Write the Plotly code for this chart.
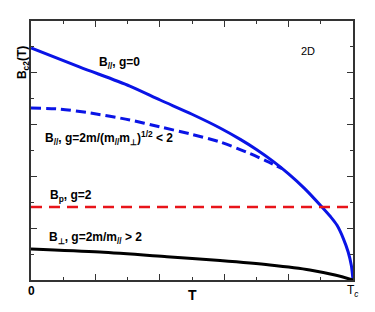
import plotly.graph_objects as go

# --- data (T / Tc, B in arbitrary units 0..10) ---
par_g0_t = [0.0, 0.152, 0.307, 0.401, 0.5, 0.587, 0.65, 0.70, 0.75, 0.80, 0.85, 0.90, 0.93, 0.95, 0.97, 0.985, 0.995, 1.0]
par_g0_b = [8.96, 8.22, 7.49, 6.95, 6.40, 5.87, 5.43, 5.04, 4.60, 4.10, 3.53, 2.87, 2.45, 2.12, 1.60, 1.08, 0.55, 0.0]

par_glt2_t = [0.0, 0.090, 0.183, 0.307, 0.401, 0.494, 0.587, 0.680, 0.73, 0.78]
par_glt2_b = [6.64, 6.60, 6.45, 6.18, 5.91, 5.64, 5.33, 4.88, 4.60, 4.30]

pauli_t = [0.0, 1.0]
pauli_b = [2.82, 2.82]

perp_t = [0.0, 0.214, 0.422, 0.587, 0.742, 0.866, 0.944, 1.0]
perp_b = [1.20, 1.08, 0.90, 0.75, 0.58, 0.39, 0.19, 0.0]

x_tick_vals = [0.0, 1.0]
x_tick_labels = ["<b>0</b>", "T<sub><i>c</i></sub>"]

curve_labels = [
    "<b>B<sub>//</sub>, g=0</b>",
    "<b>B<sub>//</sub>, g=2m/(m<sub>//</sub>m<sub>⊥</sub>)<sup>1/2</sup> &lt; 2</b>",
    "<b>B<sub>p</sub>, g=2</b>",
    "<b>B<sub>⊥</sub>, g=2m/m<sub>//</sub> &gt; 2</b>",
]

FONT = "Liberation Sans, Arial, sans-serif"

fig = go.Figure()
fig.add_trace(go.Scatter(x=par_g0_t, y=par_g0_b, mode="lines",
                         line=dict(color="#0a14e6", width=3, shape="spline", smoothing=0.8)))
fig.add_trace(go.Scatter(x=par_glt2_t, y=par_glt2_b, mode="lines",
                         line=dict(color="#0a14e6", width=3, dash="10px,5px", shape="spline", smoothing=0.8)))
fig.add_trace(go.Scatter(x=pauli_t, y=pauli_b, mode="lines",
                         line=dict(color="#e8141a", width=2.5, dash="11px,7px")))
fig.add_trace(go.Scatter(x=perp_t, y=perp_b, mode="lines",
                         line=dict(color="black", width=3, shape="spline", smoothing=0.8)))

axis_common = dict(
    showgrid=False, zeroline=False, showline=True, linecolor="#333", linewidth=1.5,
    mirror="allticks", ticks="inside", ticklen=6, tickcolor="#333", tickwidth=1,
)
fig.update_xaxes(range=[0, 1], dtick=0.2, tick0=0, showticklabels=False,
                 minor=dict(dtick=0.1, ticks="inside", ticklen=3, tickcolor="#333"), **axis_common)
fig.update_yaxes(range=[0, 10], dtick=2, tick0=0, showticklabels=False,
                 minor=dict(dtick=1, ticks="inside", ticklen=3, tickcolor="#333"), **axis_common)

ann = []
# tick labels
for v, t in zip(x_tick_vals, x_tick_labels):
    ann.append(dict(x=v, y=0, xref="x", yref="y", text=t, showarrow=False,
                    yshift=-11, font=dict(family=FONT, size=12, color="black")))
# axis titles
ann.append(dict(x=0.5, y=-0.098, xref="paper", yref="paper", text="<b>T</b>", showarrow=False,
                font=dict(family=FONT, size=14, color="black")))
ann.append(dict(x=-0.055, y=0.91, xref="paper", yref="paper", text="<b>B<sub>c2</sub>(T)</b>",
                textangle=-90, showarrow=False, font=dict(family=FONT, size=12, color="black")))
# curve labels
label_pos = [(0.205, 8.38), (0.037, 5.48), (0.053, 3.24), (0.050, 1.62)]
for (x, y), t in zip(label_pos, curve_labels):
    ann.append(dict(x=x, y=y, xref="x", yref="y", text=t, showarrow=False, xanchor="left",
                    font=dict(family=FONT, size=12, color="black")))
ann.append(dict(x=0.86, y=8.84, xref="x", yref="y", text="2D", showarrow=False,
                font=dict(family=FONT, size=11, color="black")))

# page body has an 8px margin, so the figure is sized/offset accordingly
fig.update_layout(
    width=367, height=304, margin=dict(l=23, r=22, t=13, b=32),
    paper_bgcolor="white", plot_bgcolor="white", showlegend=False, annotations=ann,
)
fig.write_html("out.html")
